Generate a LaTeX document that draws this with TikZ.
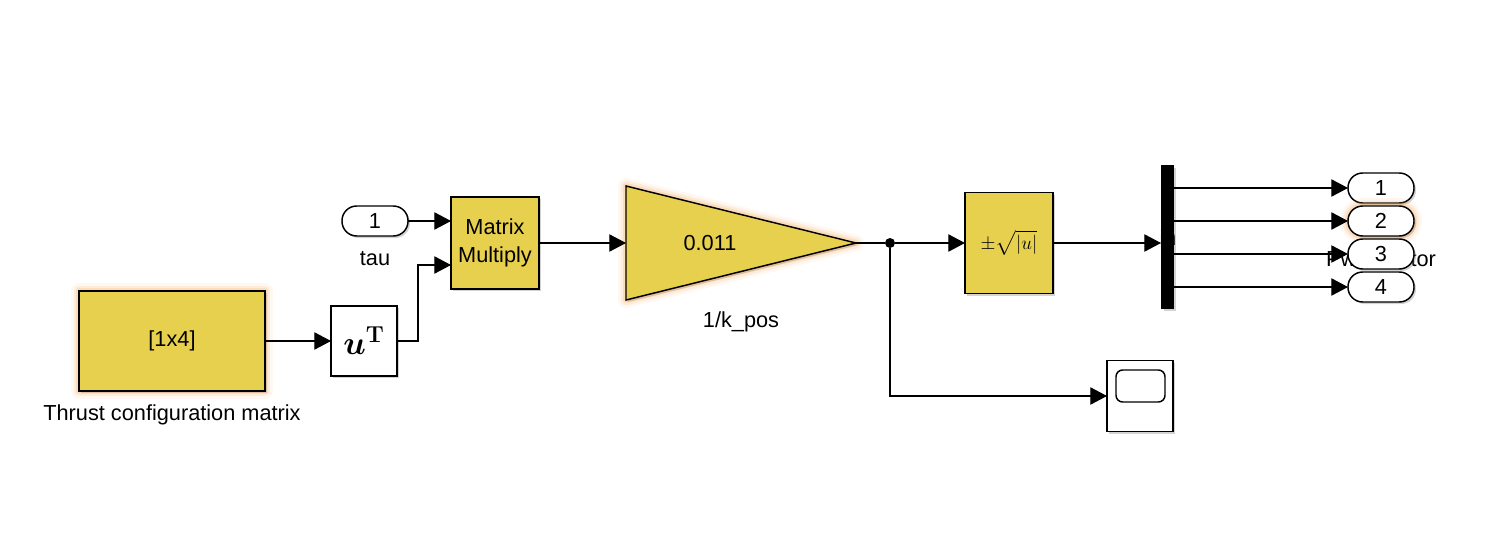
\documentclass[tikz,border=0pt]{standalone}
\usepackage{amsmath}
\usepackage{amssymb}
\usepackage[no-math]{fontspec}
\setmainfont{Liberation Sans}
\usetikzlibrary{arrows.meta, shapes.geometric, shadows}

\definecolor{blockyellow}{HTML}{E8D04F}
\definecolor{glowing}{HTML}{F39A3E}
\def\px{0.75pt}

\begin{document}
\begin{tikzpicture}[
            x = 0.75pt, y = -0.75pt, % pixels of the reference
            >= {Triangle[length=12.5pt, width=13pt]}, % arrow head style
            every path/.append style = {line width = 0.8pt},
            every node/.append style = {font = \fontsize{16.3}{21}\selectfont, inner sep = 0pt, outer sep = 0pt}
        ]

        \tikzstyle{shade}=[
            drop shadow = {shadow xshift = 1.5pt, shadow yshift = -1.5pt, opacity = 0.35}
        ]
        \tikzstyle{glow}=[
            preaction = {draw = glowing, line width = 12pt, draw opacity = 0.07, line join = round},
            preaction = {draw = glowing, line width = 8pt, draw opacity = 0.12, line join = round},
            preaction = {draw = glowing, line width = 4.5pt, draw opacity = 0.2, line join = round}
        ]
        \tikzstyle{block}=[
            draw = black,
            rectangle,
            fill = blockyellow,
            align = center,
            line width = 1.1pt,
            shade
        ]
        \tikzstyle{plainblock}=[block, fill = white]
        \tikzstyle{port}=[
            plainblock,
            rounded corners = 11pt,
            minimum width = 66*\px,
            minimum height = 30*\px
        ]

        \useasboundingbox (0, 0) rectangle (1507, 560);

        % labels, the blocks sit on top of the last two
        \node (thrustlabel) at (172, 415) {Thrust configuration matrix};
        \node (taulabel) at (375, 259) {tau};
        \node (gainlabel) at (741, 322) {1/k\_pos};
        \node (pwmlabel) at (1381, 259) {Pwm motor};
        \node (demuxlabel) at (1168, 238) {in};

        \node[block, glow, minimum width = 186*\px, minimum height = 100*\px] (thrust) at (172, 341) {[1x4]};
        \node[plainblock, minimum width = 66*\px, minimum height = 70*\px, font = \fontsize{23}{24}\selectfont] (transpose) at (364, 341) {$\boldsymbol{u}^{\mathbf{T}}$};
        \node[port] (tau) at (375, 221) {1};
        \node[block, minimum width = 88*\px, minimum height = 92*\px] (multiply) at (495, 243) {Matrix\\Multiply};
        \node[block, glow, isosceles triangle, isosceles triangle stretches, minimum width = 114*\px, minimum height = 230*\px, anchor = lower side] (gain) at (626, 243) {};
        \node (gainvalue) at (710, 243) {0.011};
        \node[circle, fill = black, minimum size = 10*\px] (junction) at (890, 243) {};
        \node[block, minimum width = 88*\px, minimum height = 101*\px, font = \fontsize{15.5}{18}\selectfont] (sqrtblock) at (1009, 243) {$\pm\sqrt{|u|}$};
        \node[block, fill = black, minimum width = 12*\px, minimum height = 143*\px] (demux) at (1167.5, 237) {};
        \node[plainblock, minimum width = 66*\px, minimum height = 71*\px] (scope) at (1140, 396) {};
        \node[draw = black, rectangle, rounded corners = 5pt, line width = 1.1pt, minimum width = 49*\px, minimum height = 32*\px] (screen) at (1140.5, 386) {};

        \coordinate (multiplyA) at (451, 221);
        \coordinate (multiplyB) at (451, 265);
        \coordinate (elbow) at (418, 341);
        \coordinate (demuxin) at (1161, 243);

        \path[->] (thrust) edge (transpose);
        \path[->] (tau) edge (multiplyA);
        \draw[->] (transpose.east) -- (elbow) |- (multiplyB);
        \draw[->] (multiply.east) -- (gain.lower side);
        \draw (gain.apex) -- (junction);
        \draw[->] (junction) -- (sqrtblock);
        \draw[->] (sqrtblock) -- (demuxin);
        \draw[->] (junction) |- (scope);

        \foreach \i/\y in {1/188, 2/221, 3/254, 4/287} {
            \ifnum\i=2
                \node[port, glow] (out\i) at (1381, \y) {\i};
            \else
                \node[port] (out\i) at (1381, \y) {\i};
            \fi
            \coordinate (demux\i) at (1174, \y);
            \draw[->] (demux\i) -- (out\i);
        }
    \end{tikzpicture}
\end{document}
